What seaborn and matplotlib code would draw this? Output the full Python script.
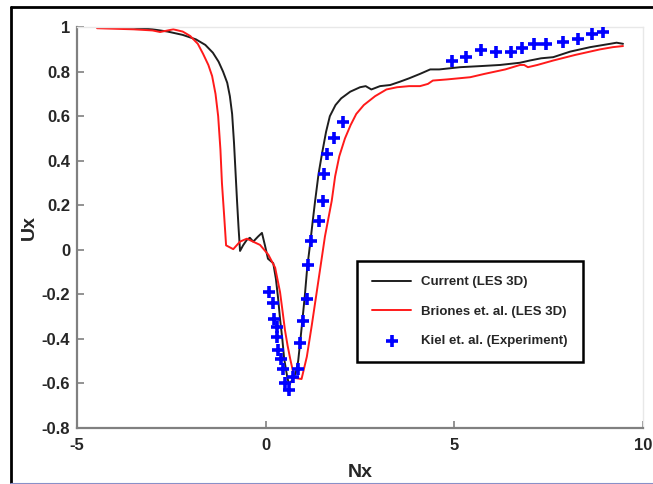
import matplotlib
matplotlib.use('Agg')
import matplotlib.pyplot as plt
import seaborn as sns
from matplotlib.lines import Line2D

# ---------------- data ----------------
current_x = [-4.39, -3.5, -3.0, -2.6, -2.2, -1.85, -1.6, -1.4, -1.25, -1.13, -1.02, -0.95,
             -0.89, -0.84, -0.8, -0.76, -0.72, -0.68, -0.6, -0.5, -0.42, -0.33, -0.2, -0.1, -0.02,
             0.06, 0.2, 0.27, 0.33, 0.38, 0.44, 0.49, 0.57, 0.62, 0.72, 0.8, 0.86, 0.91, 0.97,
             1.04, 1.1, 1.18, 1.24, 1.31, 1.4, 1.49, 1.6, 1.7, 1.85, 2.0, 2.24, 2.5, 2.65,
             2.8, 3.03, 3.3, 3.56, 3.8, 4.09, 4.36, 4.6, 5.15, 5.7, 6.21, 6.74, 7.0, 7.3,
             7.62, 8.07, 8.6, 9.13, 9.3, 9.47]
current_y = [0.998, 0.997, 0.99, 0.98, 0.965, 0.945, 0.92, 0.885, 0.845, 0.8, 0.75, 0.69,
             0.61, 0.48, 0.35, 0.22, 0.1, -0.005, 0.02, 0.045, 0.054, 0.037, 0.06, 0.076, 0.02,
             -0.04, -0.06, -0.13, -0.22, -0.31, -0.4, -0.49, -0.57, -0.606, -0.58, -0.55, -0.5,
             -0.42, -0.32, -0.2, -0.08, 0.03, 0.12, 0.22, 0.34, 0.43, 0.53, 0.6, 0.65, 0.68,
             0.71, 0.73, 0.735, 0.72, 0.735, 0.74, 0.755, 0.77, 0.79, 0.81, 0.81, 0.82, 0.825,
             0.83, 0.84, 0.85, 0.86, 0.865, 0.89, 0.91, 0.925, 0.93, 0.925]

briones_x = [-4.47, -3.5, -3.0, -2.8, -2.45, -2.2, -2.0, -1.8, -1.66, -1.52, -1.42, -1.33,
             -1.26, -1.2, -1.16, -1.1, -1.05, -0.86, -0.68, -0.5, -0.15, 0.07, 0.25, 0.38,
             0.45, 0.51, 0.58, 0.65, 0.76, 0.95, 1.09, 1.22, 1.4, 1.57, 1.75, 1.84, 1.95, 2.1,
             2.25, 2.4, 2.6, 2.9, 3.2, 3.48, 3.8, 4.09, 4.3, 4.43, 4.8, 5.42, 5.8, 6.35, 6.74,
             6.85, 6.95, 7.2, 7.62, 8.2, 8.86, 9.2, 9.47]
briones_y = [0.995, 0.99, 0.985, 0.978, 0.99, 0.98, 0.96, 0.925, 0.88, 0.83, 0.78, 0.7,
             0.6, 0.45, 0.3, 0.15, 0.02, 0.003, 0.037, 0.05, 0.022, -0.022, -0.08, -0.19,
             -0.28, -0.36, -0.43, -0.49, -0.575, -0.58, -0.48, -0.34, -0.135, 0.06, 0.22, 0.33,
             0.42, 0.5, 0.56, 0.61, 0.65, 0.69, 0.72, 0.73, 0.735, 0.735, 0.745, 0.76, 0.765,
             0.775, 0.79, 0.81, 0.83, 0.83, 0.82, 0.83, 0.85, 0.875, 0.9, 0.91, 0.915]

kiel_x = [0.09, 0.2, 0.23, 0.29, 0.29, 0.32, 0.41, 0.47, 0.51, 0.63, 0.73, 0.85, 0.91, 1.0,
          1.1, 1.13, 1.2, 1.4, 1.52, 1.55, 1.63, 1.81, 2.04, 4.95, 5.3, 5.7, 6.1, 6.5, 6.79,
          7.12, 7.42, 7.89, 8.29, 8.66, 8.93]
kiel_y = [-0.19, -0.24, -0.31, -0.345, -0.39, -0.45, -0.49, -0.535, -0.6, -0.63, -0.57,
          -0.535, -0.42, -0.32, -0.22, -0.07, 0.04, 0.13, 0.22, 0.34, 0.43, 0.5, 0.575, 0.85,
          0.865, 0.895, 0.89, 0.89, 0.905, 0.923, 0.923, 0.935, 0.946, 0.97, 0.977]

x_ticks = [-5, 0, 5, 10]
y_ticks = [-0.8, -0.6, -0.4, -0.2, 0, 0.2, 0.4, 0.6, 0.8, 1]
y_tick_labels = ['-0.8', '-0.6', '-0.4', '-0.2', '0', '0.2', '0.4', '0.6', '0.8', '1']

labels = ['Current (LES 3D)', 'Briones et. al. (LES 3D)', 'Kiel et. al. (Experiment)']

# ---------------- plot ----------------
sns.set_theme(style='white')
plt.rcParams['font.family'] = ['Liberation Sans', 'DejaVu Sans']
plt.rcParams['font.weight'] = 'bold'

fig = plt.figure(figsize=(6.53, 4.84), dpi=100)
ax = fig.add_axes([0.118, 0.1157, 0.8667, 0.8283])

sns.lineplot(x=current_x, y=current_y, sort=False, estimator=None, color='#1e1e1e',
             linewidth=1.4, ax=ax, label=labels[0])
sns.lineplot(x=briones_x, y=briones_y, sort=False, estimator=None, color='#ff1a1a',
             linewidth=1.4, ax=ax, label=labels[1])
sns.scatterplot(x=kiel_x, y=kiel_y, marker='+', s=70, color='#0000ff', linewidth=2.6,
                ax=ax, label=labels[2], zorder=3)

ax.set_xlim(-5, 10)
ax.set_ylim(-0.8, 1)
ax.set_xticks(x_ticks)
ax.set_xticklabels([str(t) for t in x_ticks])
ax.set_yticks(y_ticks)
ax.set_yticklabels(y_tick_labels)

for s in ['left', 'bottom']:
    ax.spines[s].set_color('#808080')
    ax.spines[s].set_linewidth(1.6)
for s in ['top', 'right']:
    ax.spines[s].set_color('#e8e8e8')
    ax.spines[s].set_linewidth(1.0)

ax.tick_params(axis='both', direction='in', length=5, width=1.2, color='#808080',
               labelsize=12, labelcolor='#262626', pad=5)
ax.tick_params(axis='x', pad=7)
ax.tick_params(top=False, right=False, left=True, bottom=True)
for lab in ax.get_xticklabels() + ax.get_yticklabels():
    lab.set_fontweight('bold')

ax.set_xlabel('Nx', fontsize=14, fontweight='bold', color='#262626', labelpad=8)
ax.set_ylabel('Ux', fontsize=14, fontweight='bold', color='#262626', labelpad=3)

leg = ax.legend(loc='upper left', bbox_to_anchor=(0.495, 0.4165), frameon=True,
                fancybox=False, edgecolor='black', framealpha=1,
                prop={'weight': 'bold', 'size': 9.5}, handlelength=2.9,
                handletextpad=0.8, labelspacing=1.3, borderpad=1.15, borderaxespad=0)
leg.get_frame().set_linewidth(1.8)
for t in leg.get_texts():
    t.set_color('#262626')

# screenshot frame
fig.add_artist(Line2D([11/653, 11/653], [0, 1 - 7/484], transform=fig.transFigure,
                      color='black', lw=2))
fig.add_artist(Line2D([11/653, 1], [1 - 7/484, 1 - 7/484], transform=fig.transFigure,
                      color='black', lw=2))
fig.add_artist(Line2D([11/653, 1], [0.5/484, 0.5/484], transform=fig.transFigure,
                      color='#8890c8', lw=1.5))

fig.savefig('out.png', dpi=100)
